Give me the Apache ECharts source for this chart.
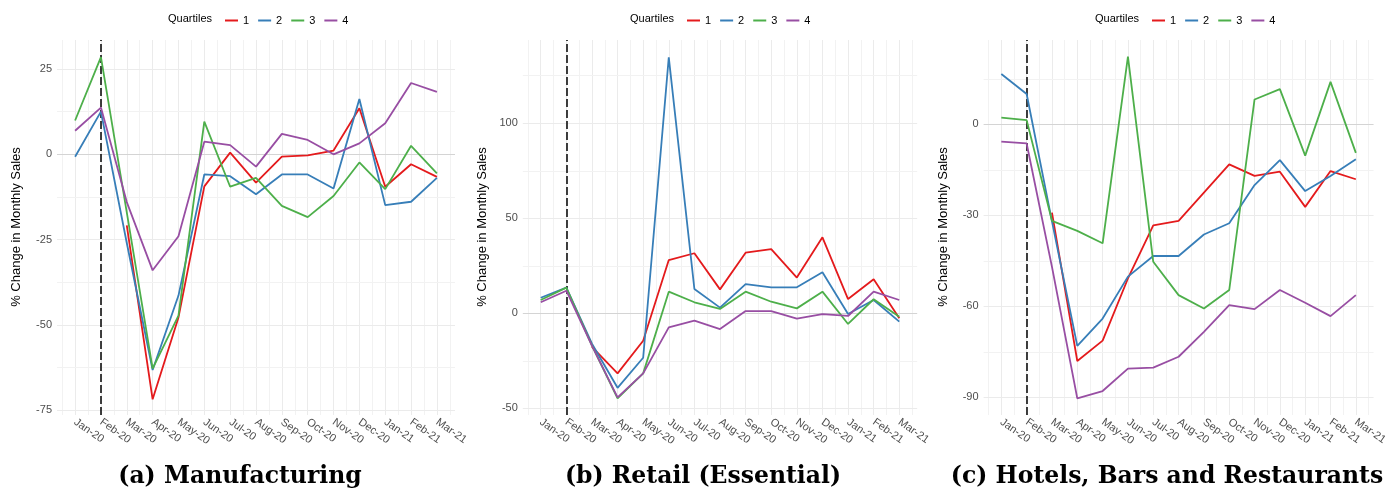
<!DOCTYPE html>
<html>
<head>
<meta charset="utf-8">
<script src="https://cdn.jsdelivr.net/npm/echarts@6/dist/echarts.min.js"></script>
<style>
  html, body { margin: 0; padding: 0; background: #fff; }
  #chart { width: 1390px; height: 491px; }
</style>
</head>
<body>
<div id="chart"></div>
<script>
// Month labels shared by all three panels
const months = ['Jan-20', 'Feb-20', 'Mar-20', 'Apr-20', 'May-20', 'Jun-20', 'Jul-20',
  'Aug-20', 'Sep-20', 'Oct-20', 'Nov-20', 'Dec-20', 'Jan-21', 'Feb-21', 'Mar-21'];

// Quartile legend names
const quartiles = ['1', '2', '3', '4'];

// (a) Manufacturing, % change in monthly sales by quartile
const mfgQ1 = [null, null, -20.8, -71.8, -47.8, -9.4, 0.5, -8.3, -0.7, -0.3, 1.1, 13.5, -9.5, -2.9, -6.6];
const mfgQ2 = [-0.7, 12.5, -26, -63.2, -41.4, -5.9, -6.4, -11.7, -5.9, -5.9, -10.0, 16.2, -14.9, -13.9, -6.9];
const mfgQ3 = [9.9, 28.5, -17, -62.8, -47.3, 9.6, -9.5, -6.9, -15.1, -18.4, -12.2, -2.4, -10.2, 2.5, -5.6];
const mfgQ4 = [6.9, 13.7, -14, -34.0, -24.0, 3.7, 2.7, -3.6, 6.0, 4.2, 0.0, 3.2, 9.1, 20.9, 18.3];

// (b) Retail (Essential)
const retQ1 = [null, null, -17.6, -31.6, -14.4, 28.0, 31.6, 12.6, 31.9, 33.8, 18.8, 40.0, 7.5, 17.9, -2.6];
const retQ2 = [8.2, 13.5, -16, -39.2, -23.4, 134.7, 12.8, 3.0, 15.4, 13.7, 13.7, 21.6, -0.4, 7.0, -4.4];
const retQ3 = [7.0, 13.5, -17, -44.7, -31.6, 11.4, 5.8, 2.3, 11.4, 6.1, 2.6, 11.4, -5.6, 7.4, -1.8];
const retQ4 = [5.8, 11.9, -17, -44.2, -31.6, -7.4, -3.9, -8.3, 1.2, 1.2, -2.8, -0.4, -1.4, 11.4, 7.0];

// (c) Hotels, Bars and Restaurants
const hbrQ1 = [null, null, -29.1, -78.0, -71.3, -50.8, -33.3, -31.8, -22.5, -13.2, -17.0, -15.6, -27.2, -15.4, -18.1];
const hbrQ2 = [16.6, 10.0, -32, -73.0, -64.0, -50.2, -43.4, -43.4, -36.3, -32.6, -20.0, -11.8, -22.0, -17.0, -11.5];
const hbrQ3 = [2.2, 1.4, -31.8, -35.1, -39.2, 22.3, -45.3, -56.3, -60.7, -54.6, 8.2, 11.6, -10.3, 14.0, -9.4];
const hbrQ4 = [-5.7, -6.3, -47, -90.3, -87.9, -80.5, -80.2, -76.6, -68.4, -59.6, -60.9, -54.6, -58.8, -63.2, -56.3];

// Y-axis break values per panel
const mfgMajor = [-75, -50, -25, 0, 25];
const mfgMinor = [-62.5, -37.5, -12.5, 12.5];
const retMajor = [-50, 0, 50, 100];
const retMinor = [-25, 25, 75, 125];
const hbrMajor = [-90, -60, -30, 0];
const hbrMinor = [-75, -45, -15, 15];

// Panel captions
const captions = ['(a) Manufacturing', '(b) Retail (Essential)', '(c) Hotels, Bars and Restaurants'];

const colors = ['#E41A1C', '#377EB8', '#4DAF4A', '#984EA3'];
const LABEL = '#4d4d4d';
const FONT = '"Liberation Sans", Arial, sans-serif';

const panels = [
  { series: [mfgQ1, mfgQ2, mfgQ3, mfgQ4], major: mfgMajor, minor: mfgMinor,
    grid: { left: 57, width: 398 }, y: [-76.4, 33.5], legendX: 220, titleX: 16, captionX: 240 },
  { series: [retQ1, retQ2, retQ3, retQ4], major: retMajor, minor: retMinor,
    grid: { left: 522.8, width: 394.4 }, y: [-53.5, 143.8], legendX: 682, titleX: 482, captionX: 703 },
  { series: [hbrQ1, hbrQ2, hbrQ3, hbrQ4], major: hbrMajor, minor: hbrMinor,
    grid: { left: 983.6, width: 397.8 }, y: [-95.8, 27.8], legendX: 1147, titleX: 943, captionX: 1167 }
];

const grids = [], xAxes = [], yAxes = [], series = [], legends = [], graphics = [];
const monthIdx = months.map((m, i) => i);
const halfIdx = [];
for (let i = -1; i < months.length; i++) halfIdx.push(i + 0.5);

panels.forEach((p, k) => {
  grids.push({ left: p.grid.left, width: p.grid.width, top: 40, height: 375, containLabel: false });
  xAxes.push({
    type: 'value', gridIndex: k, min: -0.7, max: 14.7,
    axisLine: { show: false }, axisTick: { show: false }, splitLine: { show: false },
    axisLabel: {
      customValues: monthIdx, rotate: -35, margin: 6,
      color: LABEL, fontSize: 11, fontFamily: FONT,
      formatter: v => months[Math.round(v)] || ''
    }
  });
  yAxes.push({
    type: 'value', gridIndex: k, min: p.y[0], max: p.y[1],
    axisLine: { show: false }, axisTick: { show: false }, splitLine: { show: false },
    axisLabel: { customValues: p.major, margin: 5, color: LABEL, fontSize: 11, fontFamily: FONT }
  });

  // background grid lines, zero line and the dashed reference line at Feb-20
  const gl = [];
  halfIdx.forEach(v => gl.push({ xAxis: v, lineStyle: { color: '#f2f2f2', width: 1, type: 'solid' } }));
  monthIdx.forEach(v => gl.push({ xAxis: v, lineStyle: { color: '#ebebeb', width: 1, type: 'solid' } }));
  p.minor.forEach(v => gl.push({ yAxis: v, lineStyle: { color: '#f2f2f2', width: 1, type: 'solid' } }));
  p.major.forEach(v => gl.push({ yAxis: v, lineStyle: { color: v === 0 ? '#d4d4d4' : '#ebebeb', width: 1, type: 'solid' } }));
  series.push({
    name: 'grid' + k, type: 'line', xAxisIndex: k, yAxisIndex: k, data: [], z: 0,
    markLine: { silent: true, symbol: ['none', 'none'], label: { show: false }, z: 0,
      animation: false, data: gl }
  });
  series.push({
    name: 'ref' + k, type: 'line', xAxisIndex: k, yAxisIndex: k, data: [], z: 1,
    markLine: { silent: true, symbol: ['none', 'none'], label: { show: false }, z: 1,
      animation: false,
      data: [{ xAxis: 1, lineStyle: { color: '#000', width: 1.5, type: [8, 3] } }] }
  });

  p.series.forEach((vals, q) => {
    series.push({
      name: quartiles[q], type: 'line', xAxisIndex: k, yAxisIndex: k,
      data: vals.map((v, i) => [i, v]),
      showSymbol: false, symbol: 'none', connectNulls: false, z: 3 + q,
      lineStyle: { color: colors[q], width: 1.8 }, itemStyle: { color: colors[q] },
      emphasis: { disabled: true }
    });
  });

  legends.push({
    data: quartiles, left: p.legendX, top: 10, orient: 'horizontal',
    icon: 'rect', itemWidth: 13, itemHeight: 2, itemGap: 9,
    textStyle: { color: '#000', fontSize: 11, fontFamily: FONT },
    selectedMode: false
  });

  graphics.push({
    type: 'text', x: p.legendX - 52, y: 19,
    style: { text: 'Quartiles', font: '11px ' + FONT, fill: '#000', textAlign: 'left', textVerticalAlign: 'middle' }
  });
  graphics.push({
    type: 'text', x: p.titleX, y: 227, rotation: Math.PI / 2,
    style: { text: '% Change in Monthly Sales', font: '13px ' + FONT, fill: '#000', textAlign: 'center', textVerticalAlign: 'middle' }
  });
  graphics.push({
    type: 'text', x: p.captionX, y: 477,
    style: { text: captions[k], font: 'bold 23.5px "DejaVu Serif", serif', fill: '#000', textAlign: 'center', textVerticalAlign: 'middle' }
  });
});

const chart = echarts.init(document.getElementById('chart'), null, { renderer: 'canvas' });
chart.setOption({
  animation: false,
  color: colors,
  backgroundColor: '#fff',
  grid: grids, xAxis: xAxes, yAxis: yAxes,
  legend: legends, series: series, graphic: graphics
});
</script>
</body>
</html>
